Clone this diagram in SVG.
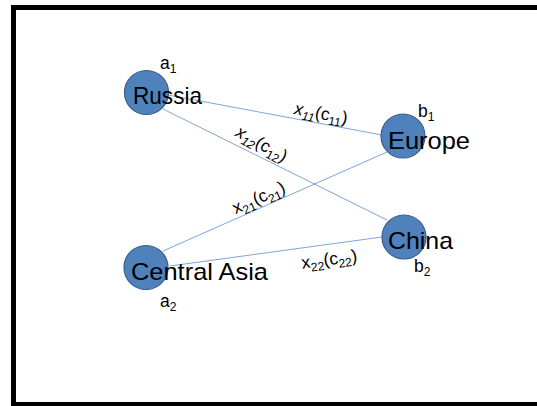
<svg xmlns="http://www.w3.org/2000/svg" width="537" height="406" viewBox="0 0 537 406">
<style>
.node{fill:#4f81bd;stroke:#385d8a;stroke-width:1.2}
.name{font-family:"Liberation Sans",Arial,sans-serif;font-size:24px;fill:#000}
.lab{font-family:"Liberation Sans",Arial,sans-serif;font-size:17.5px;fill:#000}
.sub{font-size:12px}
.edge{stroke:#6f9bd4;stroke-width:0.9;fill:none}
.it{font-style:italic}
</style>
<rect x="0" y="0" width="537" height="406" fill="#fff"/>
<rect x="13.5" y="7.5" width="540" height="397" fill="none" stroke="#000" stroke-width="5"/>
<g id="connectors">
<line class="edge" x1="168" y1="95" x2="382" y2="135"/>
<line class="edge" x1="163" y1="109" x2="387" y2="220"/>
<line class="edge" x1="163" y1="251" x2="387" y2="152"/>
<line class="edge" x1="170" y1="266" x2="382" y2="237"/>
<text class="lab" text-anchor="middle" transform="translate(320,119) rotate(10.6)"><tspan class="it">x</tspan><tspan class="it sub" dy="4">11</tspan><tspan dy="-4">(c</tspan><tspan class="sub" dy="4">11</tspan><tspan dy="-4">)</tspan></text>
<text class="lab" text-anchor="middle" transform="translate(259,149) rotate(29)"><tspan class="it">x</tspan><tspan class="it sub" dy="4">12</tspan><tspan dy="-4">(c</tspan><tspan class="sub" dy="4">12</tspan><tspan dy="-4">)</tspan></text>
<text class="lab" text-anchor="middle" transform="translate(261,203) rotate(-23.8)"><tspan>x</tspan><tspan class="sub" dy="4">21</tspan><tspan dy="-4">(c</tspan><tspan class="sub" dy="4">21</tspan><tspan dy="-4">)</tspan></text>
<text class="lab" text-anchor="middle" transform="translate(330,265) rotate(-7.8)"><tspan>x</tspan><tspan class="sub" dy="4">22</tspan><tspan dy="-4">(c</tspan><tspan class="sub" dy="4">22</tspan><tspan dy="-4">)</tspan></text>
</g>
<g id="russia">
<circle class="node" cx="146.5" cy="92.5" r="22"/>
<text class="name" x="133" y="104" textLength="69" lengthAdjust="spacingAndGlyphs">Russia</text>
<text class="lab" x="160" y="69">a<tspan class="sub" dy="4">1</tspan></text>
</g>
<g id="europe">
<circle class="node" cx="403" cy="136" r="22"/>
<text class="name" x="388" y="149" textLength="82" lengthAdjust="spacingAndGlyphs">Europe</text>
<text class="lab" x="418" y="117">b<tspan class="sub" dy="4">1</tspan></text>
</g>
<g id="china">
<circle class="node" cx="404" cy="237" r="22"/>
<text class="name" x="388" y="249" textLength="65" lengthAdjust="spacingAndGlyphs">China</text>
<text class="lab" x="414" y="272">b<tspan class="sub" dy="4">2</tspan></text>
</g>
<g id="central-asia">
<circle class="node" cx="146" cy="267.5" r="22"/>
<text class="name" x="131" y="280" textLength="137" lengthAdjust="spacingAndGlyphs">Central Asia</text>
<text class="lab" x="160" y="307">a<tspan class="sub" dy="4">2</tspan></text>
</g>
</svg>
